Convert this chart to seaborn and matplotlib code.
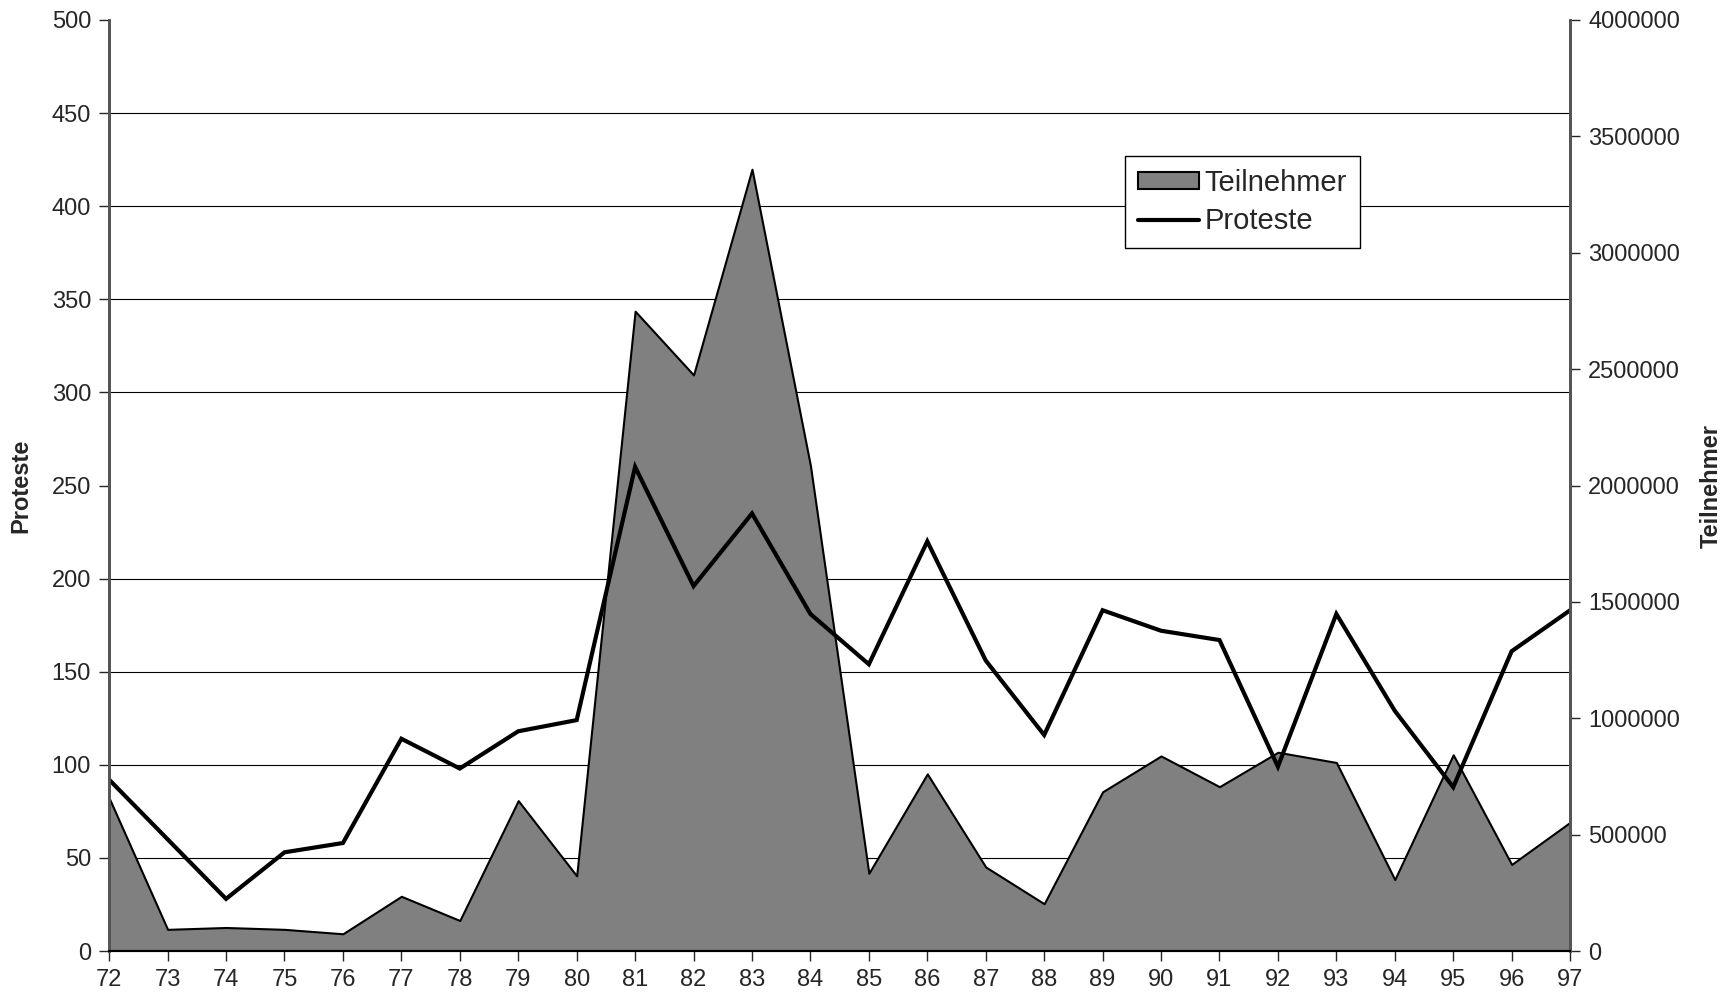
import pandas as pd
import matplotlib.pyplot as plt
import seaborn as sns
from matplotlib.ticker import MultipleLocator, FuncFormatter
from matplotlib.patches import Patch
from matplotlib.lines import Line2D

# Jahre (zweistellig) und Werte
jahre = list(range(72, 98))
proteste = [92, 60, 28, 53, 58, 114, 98, 118, 124,
            260, 196, 235, 181, 154, 220, 156, 116, 183,
            172, 167, 99, 181, 129, 88, 161, 183]
teilnehmer = [657000, 93000, 101000, 93000, 74000, 235000, 131000, 646000, 323000,
              2749000, 2475000, 3359000, 2086000, 334000, 761000, 361000, 203000, 684000,
              838000, 706000, 854000, 810000, 307000, 843000, 372000, 553000]

df = pd.DataFrame({'Jahr': jahre, 'Proteste': proteste, 'Teilnehmer': teilnehmer})

sns.set_style('white')
plt.rcParams['font.family'] = ['Liberation Sans', 'DejaVu Sans']

fig, ax = plt.subplots(figsize=(17.33, 10), dpi=100)
fig.subplots_adjust(left=0.063, right=0.906, top=0.98, bottom=0.049)

# rechte Achse: Teilnehmer als Flaeche (liegt hinten)
ax2 = ax.twinx()
ax2.fill_between(df['Jahr'], df['Teilnehmer'], color='#808080',
                 edgecolor='black', linewidth=1.5, zorder=2)
ax2.set_ylim(0, 4000000)
ax2.yaxis.set_major_locator(MultipleLocator(500000))
ax2.yaxis.set_minor_locator(MultipleLocator(400000))
ax2.yaxis.set_major_formatter(FuncFormatter(lambda v, p: f'{int(v)}'))
ax2.grid(which='minor', axis='y', color='black', linewidth=0.8)
ax2.grid(which='major', visible=False)
ax2.set_axisbelow(True)
ax2.tick_params(axis='y', which='minor', length=0)
ax2.tick_params(axis='y', which='major', direction='out', length=7, width=1,
                labelsize=17, pad=6)
ax2.set_ylabel('Teilnehmer', fontsize=17, fontweight='bold', labelpad=14)

# linke Achse: Proteste als Linie (liegt vorne)
ax.set_zorder(ax2.get_zorder() + 1)
ax.patch.set_visible(False)
sns.lineplot(data=df, x='Jahr', y='Proteste', ax=ax, color='black',
             linewidth=3, solid_joinstyle='miter', legend=False)
ax.set_ylim(0, 500)
ax.set_xlim(72, 97)
ax.yaxis.set_major_locator(MultipleLocator(50))
ax.set_xticks(jahre)
ax.tick_params(axis='both', direction='out', length=7, width=1,
               labelsize=17, pad=6, left=True, bottom=True)
ax.set_xlabel('')
ax.set_ylabel('Proteste', fontsize=17, fontweight='bold', labelpad=14)

for a in (ax, ax2):
    a.spines['top'].set_visible(False)
    a.spines['left'].set_color('#555555')
    a.spines['left'].set_linewidth(2)
    a.spines['right'].set_color('#555555')
    a.spines['right'].set_linewidth(2)
    a.spines['bottom'].set_color('black')
    a.spines['bottom'].set_linewidth(1.5)

handles = [Patch(facecolor='#808080', edgecolor='black', linewidth=1.5),
           Line2D([], [], color='black', linewidth=3)]
leg = ax.legend(handles, ['Teilnehmer', 'Proteste'], loc='upper left',
                bbox_to_anchor=(0.695, 0.854), fontsize=21, frameon=True,
                fancybox=False, framealpha=1, edgecolor='black',
                handlelength=2.1, handleheight=0.5, handletextpad=0.2,
                borderpad=0.45, labelspacing=0.35, borderaxespad=0)
leg.get_frame().set_linewidth(1)

plt.savefig('out.png', dpi=100)
